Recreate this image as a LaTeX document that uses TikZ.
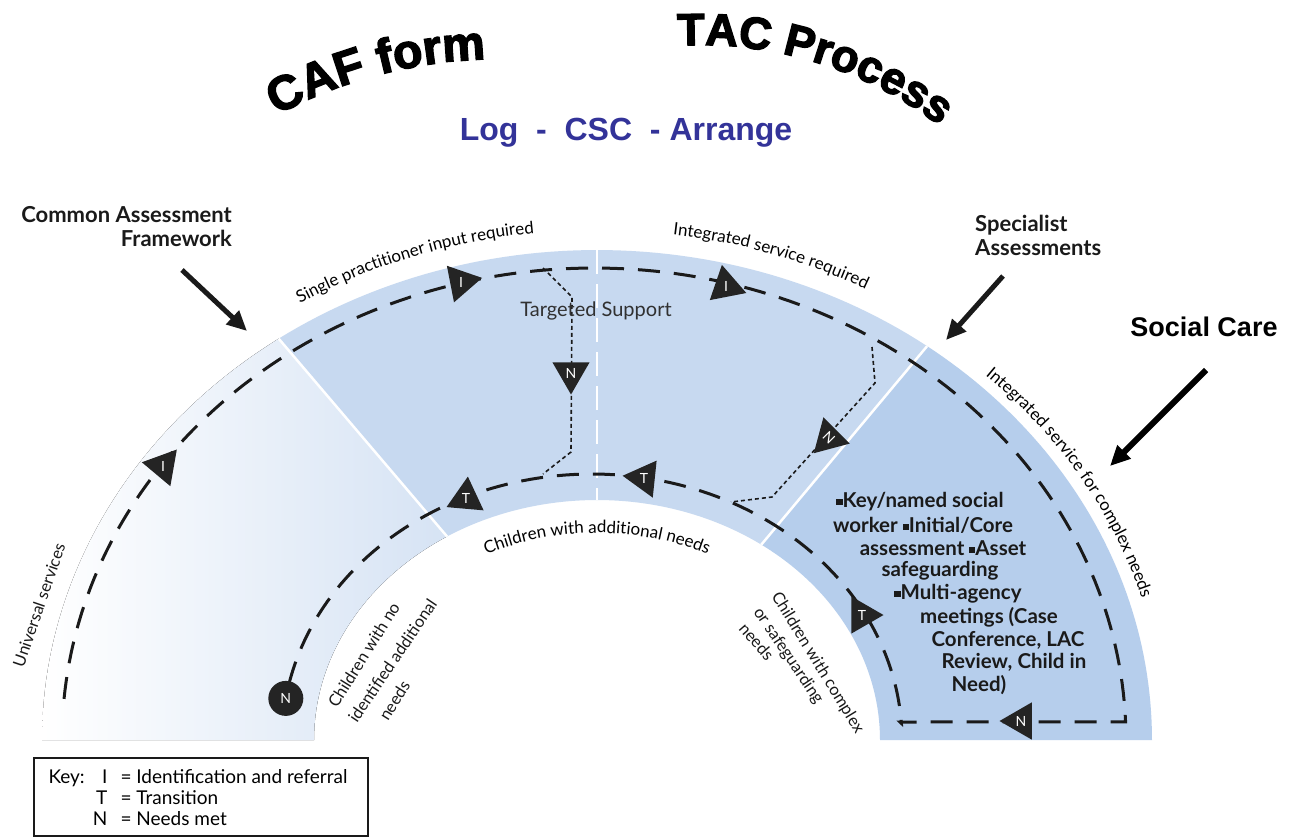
\documentclass[tikz,border=0pt]{standalone}
\usepackage{fontspec}
\setmainfont{Lato}
\newfontfamily\arialf{Liberation Sans}
\newfontfamily\heavyf{Liberation Sans Bold}[FakeBold=3]
\usetikzlibrary{decorations.text,shapes.geometric,arrows.meta}
\definecolor{bandL}{HTML}{D6E3F4}
\definecolor{bandM}{HTML}{C7D9F0}
\definecolor{bandR}{HTML}{B6CEEC}
\definecolor{trifill}{HTML}{242424}
\definecolor{titleblue}{HTML}{333399}
\definecolor{ink}{HTML}{1A1A1A}
\newcommand\lblfont{\fontsize{16.5}{18}\selectfont}
\newcommand\arcfont{\fontsize{17}{19}\selectfont}
\newcommand\cafheavy{\heavyf\fontsize{48}{48}\selectfont}
\newcommand\tacheavy{\heavyf\fontsize{45}{45}\selectfont}
\newcommand\keyfont{\fontsize{19}{21}\selectfont}
\newcommand\sqb{\raisebox{0.12em}{\rule{0.3em}{0.3em}}}
\begin{document}
\begin{tikzpicture}[x=1pt,y=-1pt,
 declare function={
  ox(\t)=597+555*cos(\t); oy(\t)=740-490*sin(\t);
  ix(\t)=597+283*cos(\t); iy(\t)=740-240*sin(\t);
  ax(\t)=594+532*cos(\t); ay(\t)=740-472*sin(\t);
  bx(\t)=592+310*cos(\t); by(\t)=740-266*sin(\t);
  lx(\t)=597+575*cos(\t); ly(\t)=740-510*sin(\t);
  rx(\t)=597+568*cos(\t); ry(\t)=740-500*sin(\t);
  chx(\t)=597+250*cos(\t); chy(\t)=740-207*sin(\t);
 },
 track/.style={line width=3pt, dash pattern=on 22pt off 14pt, draw=ink},
 dotline/.style={line width=1.6pt, dash pattern=on 4pt off 3pt, draw=ink},
 tri/.style={regular polygon, regular polygon sides=3, minimum size=43pt, inner sep=0pt, fill=trifill, text=white, font=\fontsize{14}{14}\selectfont},
 bigarrow/.style={line width=5pt, draw=ink, -{Triangle[length=20pt,width=18pt]}},
 arclabel/.style={decorate, decoration={text along path, text align=center, text={|\arcfont|#1}}},
 rotlabel/.style={font=\lblfont, inner sep=0pt, text=ink},
 listtext/.style={font=\bfseries\fontsize{20.5}{22}\selectfont, text=ink, inner sep=0pt},
 headtext/.style={font=\bfseries\fontsize{22}{24}\selectfont, text=ink, inner sep=0pt},
]
\useasboundingbox (0,0) rectangle (1293,836);
\fill[white] (0,0) rectangle (1293,836);

% band sectors
\fill[left color=white, right color=bandL]
  plot[domain=180:125, samples=40] ({ox(\x)},{oy(\x)}) --
  plot[domain=122:180, samples=40] ({ix(\x)},{iy(\x)}) -- cycle;
\fill[bandM]
  plot[domain=125:53.5, samples=60] ({ox(\x)},{oy(\x)}) --
  plot[domain=54.5:122, samples=60] ({ix(\x)},{iy(\x)}) -- cycle;
\fill[bandR]
  plot[domain=53.5:0, samples=50] ({ox(\x)},{oy(\x)}) --
  plot[domain=0:54.5, samples=50] ({ix(\x)},{iy(\x)}) -- cycle;

% separators
\draw[white, line width=2.5pt] ({ox(125)},{oy(125)}) -- ({ix(122)},{iy(122)});
\draw[white, line width=2.5pt] ({ox(53.5)},{oy(53.5)}) -- ({ix(54.5)},{iy(54.5)});
\draw[white, line width=2pt, dash pattern=on 24pt off 10pt] ({ox(90)},{oy(90)}) -- ({ix(90)},{iy(90)});

% main dashed loop
\coordinate (cornerR) at ({ax(2.2)},{ay(2.2)});
\coordinate (cornerL) at (900,722);
\draw[track] plot[domain=175:2.2, samples=150] ({ax(\x)},{ay(\x)}) -- (cornerL) --
  plot[domain=3.6:170, samples=110] ({bx(\x)},{by(\x)});

% dotted connectors
\coordinate (ts0) at (543,268);
\coordinate (ts1) at (572,297);
\coordinate (ts2) at (571,452);
\coordinate (ts3) at (543,474);
\coordinate (rd0) at (872,347);
\coordinate (rd1) at (875,383);
\coordinate (rd2) at (772,497);
\coordinate (rd3) at (731,502);
\draw[dotline] (ts0) -- (ts1) -- (ts2) -- (ts3);
\draw[dotline] (rd0) -- (rd1) -- (rd2) -- (rd3);

% triangles
\node[tri, shape border rotate=-40] (I1) at (163,466) {I};
\node[tri, shape border rotate=-79] (I2) at (461,282) {I};
\node[tri, shape border rotate=-109] (I3) at (726,286) {I};
\node[tri, shape border rotate=180] (Nm) at (571,373) {N};
\node[tri, shape border rotate=180, rotate=-45] (Nr) at (829,438) {N};
\node[tri, shape border rotate=90] (Nb) at (1021,721) {N};
\node[tri, shape border rotate=-90] (Tr) at (862,615) {T};
\node[tri, shape border rotate=84] (Tm) at (644,478) {T};
\node[tri, shape border rotate=-5] (Tl) at (466,498) {T};
\node[circle, fill=trifill, minimum size=35pt, inner sep=0pt, text=white, font=\fontsize{14}{14}\selectfont] (Nc) at ({bx(171)},{by(171)}) {N};

% labels on arcs
\path[arclabel={Single practitioner input required}] plot[domain=136:82, samples=80] ({lx(\x)},{ly(\x)});
\path[arclabel={Integrated service required}] plot[domain=97:47, samples=80] ({lx(\x)},{ly(\x)});
\path[arclabel={Integrated service for complex needs}] plot[domain=62:0, samples=90] ({rx(\x)},{ry(\x)});
\path[arclabel={Children with additional needs}] plot[domain=128:52, samples=80] ({chx(\x)},{chy(\x)});

% rotated labels
\node[rotlabel, rotate=71] (univ) at (39,605) {Universal services};
\node[rotlabel, rotate=58, anchor=base west] (nn1) at (337,709) {Children with no};
\node[rotlabel, rotate=56, anchor=base west] (nn2) at (357,724) {identified additional};
\node[rotlabel, rotate=58, anchor=base west] (nn3) at (388,722) {needs};
\node[rotlabel, rotate=-58.5, anchor=base west] (cx1) at (771,596) {Children with complex};
\node[rotlabel, rotate=-56, anchor=base west] (cx2) at (753,612) {or safeguarding};
\node[rotlabel, rotate=-49, anchor=base west] (cx3) at (738,629) {needs};

\node[font=\fontsize{20}{22}\selectfont, text=ink!90, inner sep=0pt] (tsup) at (596,311) {Targeted Support};

% social care list
\node[listtext] (l1) at (920,502) {\sqb Key/named social};
\node[listtext] (l2) at (923,525) {worker \sqb Initial/Core};
\node[listtext] (l3) at (943,548) {assessment \sqb Asset};
\node[listtext] (l4) at (940,571) {safeguarding};
\node[listtext] (l5) at (958,594) {\sqb Multi-agency};
\node[listtext] (l6) at (989,617) {meetings (Case};
\node[listtext] (l7) at (1008,640) {Conference, LAC};
\node[listtext] (l8) at (1014,662) {Review, Child in};
\node[listtext] (l9) at (979,685) {Need)};

% side headings and arrows
\node[headtext, anchor=north east, align=right] (caf) at (232,206) {Common Assessment\\Framework};
\node[headtext, anchor=north west, align=left] (spec) at (975,215) {Specialist\\Assessments};
\node[font=\arialf\bfseries\fontsize{27}{27}\selectfont, inner sep=0pt] (sc) at (1204,327) {Social Care};
\coordinate (a1s) at (182,270);
\coordinate (a1e) at (247,331);
\coordinate (a2s) at (1003,276);
\coordinate (a2e) at (946,340);
\coordinate (a3s) at (1206,370);
\coordinate (a3e) at (1110,466);
\draw[bigarrow] (a1s) -- (a1e);
\draw[bigarrow] (a2s) -- (a2e);
\draw[bigarrow, line width=6pt, draw=black] (a3s) -- (a3e);

% key
\node[draw=ink, line width=1.8pt, minimum width=334pt, minimum height=78pt, anchor=north west, inner sep=0pt] (keybox) at (33,757) {};
\node[anchor=base west, font=\keyfont] (kw) at (45,783) {Key:};
\node[anchor=base east, font=\keyfont] (kI) at (111,783) {I};
\node[anchor=base west, font=\keyfont] (kIt) at (117,783) {= Identification and referral};
\node[anchor=base east, font=\keyfont] (kT) at (111,804) {T};
\node[anchor=base west, font=\keyfont] (kTt) at (117,804) {= Transition};
\node[anchor=base east, font=\keyfont] (kN) at (111,825) {N};
\node[anchor=base west, font=\keyfont] (kNt) at (117,825) {= Needs met};

% titles
\path[decorate, decoration={text along path, text align=center, text={|\cafheavy|CAF form}}]
  plot[domain=140:70, samples=90] ({500+472*cos(\x)},{531-472*sin(\x)});
\path[decorate, decoration={text along path, text align=center, text={|\tacheavy|TAC Process}}]
  plot[domain=113:33, samples=90] ({700+396*cos(\x)},{441-396*sin(\x)});
\node[font=\arialf\bfseries\fontsize{32}{32}\selectfont, text=titleblue, inner sep=0pt] (log) at (626,133) {Log~~-~~CSC~~-~Arrange};
\end{tikzpicture}
\end{document}
